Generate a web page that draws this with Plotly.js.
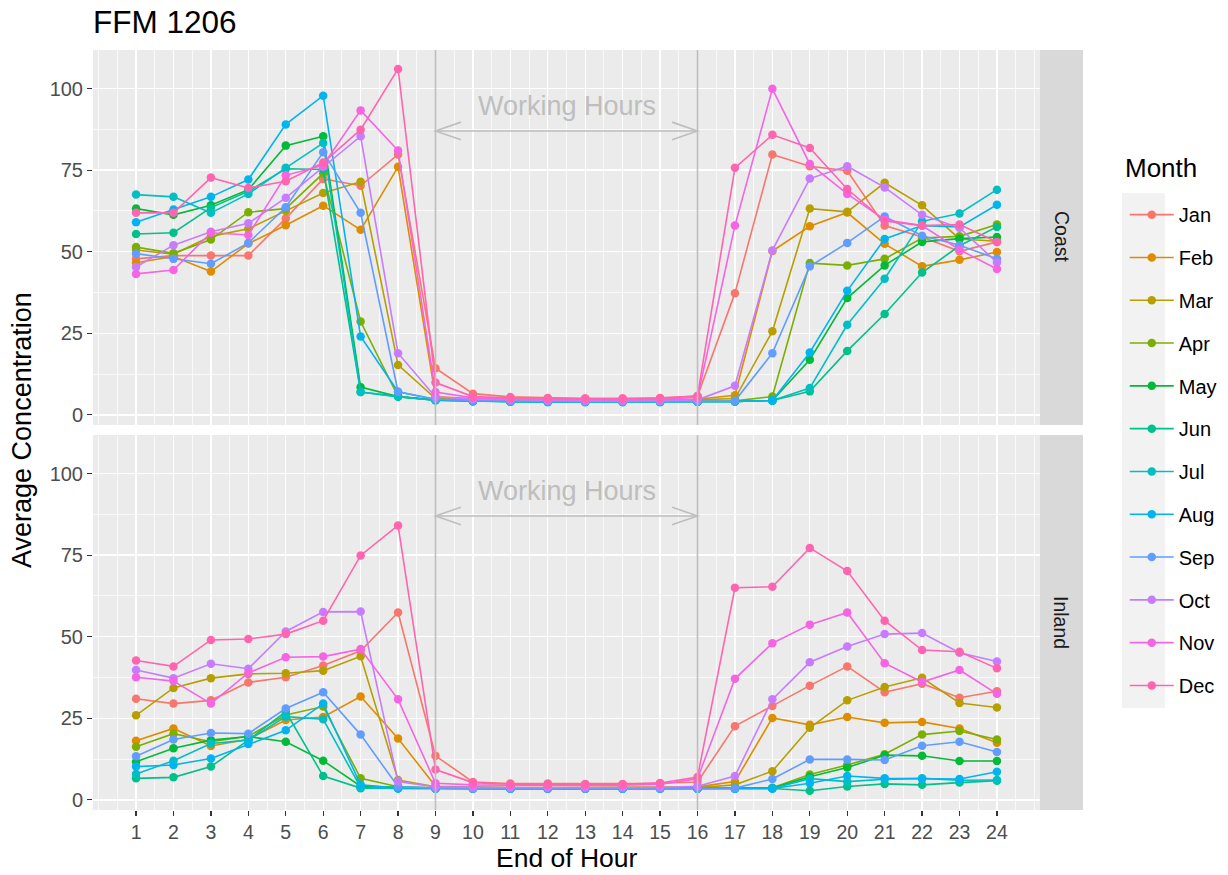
<!DOCTYPE html>
<html>
<head>
<meta charset="utf-8">
<script src="https://cdn.plot.ly/plotly-3.0.1.min.js"></script>
<style>html,body{margin:0;padding:0;background:#fff;}#chart{width:1228px;height:875px;}</style>
</head>
<body>
<div id="chart"></div>
<script>
const hours = [1,2,3,4,5,6,7,8,9,10,11,12,13,14,15,16,17,18,19,20,21,22,23,24];
const months = ["Jan","Feb","Mar","Apr","May","Jun","Jul","Aug","Sep","Oct","Nov","Dec"];
const monthColors = ["#F8766D","#DE8C00","#B79F00","#7CAE00","#00BA38","#00C08B","#00BFC4","#00B4F0","#619CFF","#C77CFF","#F564E3","#FF64B0"];
const yTicks = [0,25,50,75,100];
const panelNames = ["Coast","Inland"];
const workStart = 9, workEnd = 16;

// Coast panel
const coastJan = [47.8,48.8,48.8,48.8,60.2,72.3,70.2,79.8,14.3,6.5,5.5,5.2,5.0,5.0,5.2,5.8,37.3,79.8,76.2,74.8,58.0,54.5,50.1,53.0];
const coastFeb = [46.6,48.5,43.9,52.5,58.1,64.1,56.7,76.0,5.5,5.0,4.8,4.6,4.5,4.5,4.6,4.8,6.0,50.2,57.8,62.0,52.4,45.5,47.5,49.9];
const coastMar = [50.5,49.2,54.7,57.0,62.5,68.0,71.4,15.3,5.0,4.7,4.5,4.4,4.4,4.4,4.5,4.6,5.0,25.6,63.2,62.2,71.1,64.2,53.9,53.2];
const coastApr = [51.4,49.5,53.7,62.1,63.2,74.0,28.6,5.6,4.6,4.3,4.2,4.1,4.1,4.1,4.1,4.2,4.3,5.6,46.5,45.8,47.8,54.2,54.7,58.3];
const coastMay = [63.2,61.3,64.2,69.0,82.5,85.4,8.5,5.6,4.5,4.2,4.1,4.0,4.0,4.0,4.0,4.1,4.1,4.4,16.9,35.8,45.8,53.0,54.0,54.5];
const coastJun = [55.4,55.8,63.5,68.5,75.4,75.2,7.0,5.6,4.5,4.2,4.0,4.0,4.0,4.0,4.0,4.0,4.1,4.4,7.2,19.6,30.9,43.6,51.8,57.6];
const coastJul = [67.5,66.8,61.9,67.7,75.7,83.3,7.0,5.6,4.5,4.2,4.0,3.9,3.9,3.9,3.9,4.0,4.1,4.4,8.2,27.6,41.7,59.3,61.7,69.0];
const coastAug = [59.0,62.9,66.8,72.1,89.0,97.8,24.0,7.1,4.7,4.3,4.1,4.0,4.0,4.0,4.0,4.0,4.1,4.4,19.1,38.0,53.9,58.0,57.6,64.4];
const coastSep = [49.4,47.8,46.3,52.7,63.6,80.5,61.9,7.1,4.8,4.4,4.2,4.1,4.1,4.1,4.1,4.2,4.3,18.9,45.5,52.7,60.8,54.9,52.0,47.8];
const coastOct = [45.3,52.0,56.1,58.7,66.5,76.0,85.4,18.9,5.5,4.8,4.6,4.4,4.3,4.3,4.4,4.6,8.9,50.4,72.4,76.2,69.7,61.3,57.3,46.7];
const coastNov = [43.2,44.4,55.8,55.1,73.4,76.5,93.3,81.0,7.0,5.2,4.9,4.7,4.6,4.6,4.8,5.3,58.0,99.9,76.9,67.7,59.8,58.0,50.6,44.7];
const coastDec = [61.9,61.9,72.7,69.5,71.6,77.3,87.4,106.0,9.9,5.6,5.2,5.0,5.0,5.0,5.1,5.8,75.7,85.8,81.8,69.2,59.4,58.0,58.3,53.0];

// Inland panel
const inlandJan = [31.0,29.5,30.5,36.0,37.6,41.2,45.7,57.4,13.5,5.5,5.0,5.0,4.9,4.9,5.1,5.5,22.6,28.8,35.0,40.9,33.0,35.6,31.3,33.3];
const inlandFeb = [18.1,21.9,16.5,18.6,24.5,25.4,31.7,18.8,4.2,3.9,3.8,3.8,3.8,3.8,3.8,4.0,5.6,25.1,23.0,25.4,23.6,23.9,21.9,17.5];
const inlandMar = [25.9,34.3,37.3,38.6,38.8,39.6,44.0,6.1,4.0,3.8,3.7,3.7,3.7,3.7,3.7,3.8,4.6,8.8,22.1,30.5,34.6,37.4,29.7,28.3];
const inlandApr = [16.3,20.3,17.8,19.5,26.0,28.6,6.6,4.0,3.7,3.6,3.6,3.6,3.6,3.6,3.6,3.6,3.6,3.7,7.8,10.7,14.0,20.0,21.1,18.5];
const inlandMay = [11.7,15.8,18.3,19.4,17.8,12.0,4.2,3.8,3.6,3.5,3.5,3.5,3.5,3.5,3.5,3.5,3.5,3.6,7.1,9.9,13.7,13.5,11.9,11.9];
const inlandJun = [6.6,6.9,10.2,18.3,27.0,7.3,3.6,3.5,3.4,3.4,3.4,3.4,3.4,3.4,3.4,3.4,3.4,3.5,2.8,4.1,4.9,4.6,5.3,5.9];
const inlandJul = [7.9,12.0,17.3,18.3,25.5,24.7,3.8,3.5,3.5,3.4,3.4,3.4,3.4,3.4,3.4,3.4,3.4,3.5,6.5,5.6,6.3,6.6,6.0,6.1];
const inlandAug = [10.2,10.7,12.7,17.1,21.3,29.5,4.6,3.6,3.5,3.4,3.4,3.4,3.4,3.4,3.4,3.4,3.4,3.5,5.1,7.3,6.6,6.4,6.4,8.6];
const inlandSep = [13.4,18.5,20.5,20.3,28.0,33.0,20.0,4.0,3.6,3.5,3.5,3.5,3.5,3.5,3.5,3.5,3.6,6.4,12.4,12.4,12.2,16.6,17.8,14.7];
const inlandOct = [39.8,37.3,41.7,40.2,51.6,57.6,57.7,5.6,4.0,3.8,3.8,3.8,3.8,3.8,3.8,4.2,7.3,30.8,42.2,47.0,50.8,51.1,45.1,42.4];
const inlandNov = [37.6,36.4,29.5,38.9,43.7,43.9,46.2,30.8,5.1,4.6,4.5,4.5,4.5,4.5,4.8,6.5,37.1,48.0,53.7,57.4,41.9,36.1,39.8,32.5];
const inlandDec = [42.7,40.9,49.0,49.3,50.8,54.9,74.9,84.1,9.3,5.3,4.8,4.8,4.8,4.8,5.2,7.0,65.0,65.3,77.2,70.1,54.9,45.9,45.4,40.3];

const coastSeries = [coastJan,coastFeb,coastMar,coastApr,coastMay,coastJun,coastJul,coastAug,coastSep,coastOct,coastNov,coastDec];
const inlandSeries = [inlandJan,inlandFeb,inlandMar,inlandApr,inlandMay,inlandJun,inlandJul,inlandAug,inlandSep,inlandOct,inlandNov,inlandDec];

const traces = [];
months.forEach((m, i) => {
  traces.push({x: hours, y: coastSeries[i], xaxis: 'x', yaxis: 'y', type: 'scatter', mode: 'lines+markers',
    name: m, legendgroup: m, showlegend: true,
    line: {color: monthColors[i], width: 1.6}, marker: {color: monthColors[i], size: 8.5}});
  traces.push({x: hours, y: inlandSeries[i], xaxis: 'x2', yaxis: 'y2', type: 'scatter', mode: 'lines+markers',
    name: m, legendgroup: m, showlegend: false,
    line: {color: monthColors[i], width: 1.6}, marker: {color: monthColors[i], size: 8.5}});
});

const minorX = [];
for (let h = 0; h <= 25; h += 0.5) { if (hours.indexOf(h) < 0) minorX.push(h); }
const minorY = [12.5, 37.5, 62.5, 87.5];

const font = "Liberation Sans, Arial, sans-serif";
const xRange = [-0.15, 25.15];
const yRange = [-3.1, 111.8];
const splitTop = 0.5066, splitBot = 0.4934;

function xAxis(showLabels, anchor) {
  return {anchor: anchor, domain: [0,1], range: xRange, tickmode: 'array', tickvals: hours, ticktext: hours.map(String),
    showticklabels: showLabels, ticks: showLabels ? 'outside' : '', ticklen: 5, tickcolor: '#333333', tickwidth: 1.2,
    tickfont: {family: font, size: 19.5, color: '#4D4D4D'},
    showgrid: true, gridcolor: '#FFFFFF', gridwidth: 1.4, zeroline: false, showline: false, automargin: false,
    minor: {tickmode: 'array', tickvals: minorX, showgrid: true, gridcolor: '#FFFFFF', gridwidth: 0.7, ticks: ''}};
}
function yAxis(domain, anchor) {
  return {anchor: anchor, domain: domain, range: yRange, tickmode: 'array', tickvals: yTicks, ticktext: yTicks.map(String),
    ticks: 'outside', ticklen: 5, tickcolor: '#333333', tickwidth: 1.2,
    tickfont: {family: font, size: 20, color: '#4D4D4D'},
    showgrid: true, gridcolor: '#FFFFFF', gridwidth: 1.4, zeroline: false, showline: false, automargin: false,
    minor: {tickmode: 'array', tickvals: minorY, showgrid: true, gridcolor: '#FFFFFF', gridwidth: 0.7, ticks: ''}};
}

const shapes = [];
const annotations = [];
const grey = '#BEBEBE';
[['x','y'],['x2','y2']].forEach(([xr, yr], p) => {
  [workStart, workEnd].forEach(h => shapes.push({type: 'line', xref: xr, yref: yr + ' domain', x0: h, x1: h, y0: 0, y1: 1,
    line: {color: grey, width: 1.6}, layer: 'above'}));
  const ay = 87;
  shapes.push({type: 'line', xref: xr, yref: yr, x0: workStart, x1: workEnd, y0: ay, y1: ay, line: {color: grey, width: 1.6}, layer: 'above'});
  shapes.push({type: 'path', xref: xr, yref: yr, path: `M ${workStart+0.68},${ay+2.7} L ${workStart},${ay} L ${workStart+0.68},${ay-2.7}`, line: {color: grey, width: 1.6}, layer: 'above'});
  shapes.push({type: 'path', xref: xr, yref: yr, path: `M ${workEnd-0.68},${ay+2.7} L ${workEnd},${ay} L ${workEnd-0.68},${ay-2.7}`, line: {color: grey, width: 1.6}, layer: 'above'});
  annotations.push({xref: xr, yref: yr, x: (workStart+workEnd)/2, y: 94.6, text: 'Working Hours', showarrow: false,
    font: {family: font, size: 27, color: grey}, xanchor: 'center', yanchor: 'middle'});
  // strips
  const dom = p === 0 ? [splitTop, 1] : [0, splitBot];
  shapes.push({type: 'rect', xref: 'paper', yref: 'paper', x0: 1, x1: 1.0454, y0: dom[0], y1: dom[1], fillcolor: '#D9D9D9', line: {width: 0}});
  annotations.push({xref: 'paper', yref: 'paper', x: 1.0227, y: (dom[0]+dom[1])/2, text: panelNames[p], showarrow: false,
    textangle: 90, font: {family: font, size: 19.5, color: '#1A1A1A'}, xanchor: 'center', yanchor: 'middle'});
});
// legend key background
shapes.push({type: 'rect', xref: 'paper', yref: 'paper', x0: 1.0866, x1: 1.132, y0: 0.1342, y1: 0.8118, fillcolor: '#F2F2F2', line: {width: 0}, layer: 'below'});

annotations.push({xref: 'paper', yref: 'paper', x: 0.5, y: -0.063, text: 'End of Hour', showarrow: false,
  font: {family: font, size: 26.5, color: '#000000'}, xanchor: 'center', yanchor: 'middle'});
annotations.push({xref: 'paper', yref: 'paper', x: -0.075, y: 0.5, text: 'Average Concentration', showarrow: false, textangle: -90,
  font: {family: font, size: 27, color: '#000000'}, xanchor: 'center', yanchor: 'middle'});
// legend title
annotations.push({xref: 'paper', yref: 'paper', x: (1123-93)/947, y: (810-168)/760, text: 'Month', showarrow: false,
  font: {family: font, size: 26, color: '#000000'}, xanchor: 'left', yanchor: 'middle'});

const layout = {
  width: 1228, height: 875,
  margin: {l: 93, r: 188, t: 50, b: 65, autoexpand: false},
  paper_bgcolor: '#FFFFFF', plot_bgcolor: '#EBEBEB',
  title: {text: 'FFM 1206', font: {family: font, size: 31.5, color: '#000000'}, xref: 'paper', x: 0, xanchor: 'left', yref: 'container', y: 0.975, yanchor: 'middle'},
  xaxis: xAxis(false, 'y'),
  xaxis2: xAxis(true, 'y2'),
  yaxis: yAxis([splitTop, 1], 'x'),
  yaxis2: yAxis([0, splitBot], 'x2'),
  showlegend: true,
  legend: {x: 1.0895, xanchor: 'left', y: 0.809, yanchor: 'top', bgcolor: 'rgba(0,0,0,0)', borderwidth: 0,
    font: {family: font, size: 20, color: '#000000'}, tracegroupgap: 13.8, itemwidth: 44},
  shapes: shapes, annotations: annotations,
  hovermode: false
};

Plotly.newPlot('chart', traces, layout, {staticPlot: true, displayModeBar: false});
</script>
</body>
</html>
